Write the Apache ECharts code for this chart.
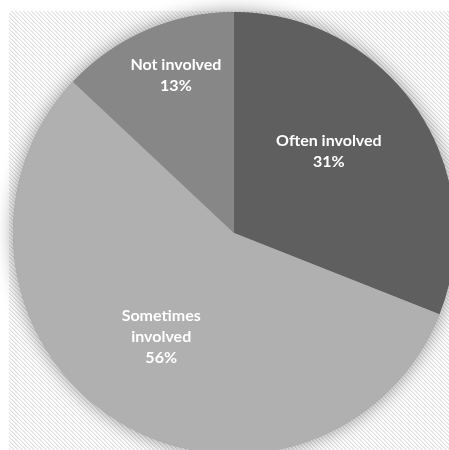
<!DOCTYPE html>
<html>
<head>
<meta charset="utf-8">
<script src="https://cdn.jsdelivr.net/npm/echarts@6/dist/echarts.min.js"></script>
<style>html,body{margin:0;padding:0;background:#fff;}#c{width:449px;height:450px;}</style>
</head>
<body>
<div id="c"></div>
<script>
var categories = ['Often involved', 'Sometimes involved', 'Not involved'];
var labelNames = ['Often involved', 'Sometimes\ninvolved', 'Not involved'];
var values = [31, 56, 13];
var colors = ['#5f5f5f', '#b0b0b0', '#878787'];
var labelOffsets = [[1, -18], [-12, 8], [-13, -53]];

var pc = document.createElement('canvas');
pc.width = 4; pc.height = 4;
var pctx = pc.getContext('2d');
pctx.fillStyle = '#ffffff'; pctx.fillRect(0, 0, 4, 4);
for (var y = 0; y < 4; y++) for (var x = 0; x < 4; x++) {
  var m = ((x - y) % 4 + 4) % 4;
  if (m === 0) { pctx.fillStyle = '#e0e0e0'; pctx.fillRect(x, y, 1, 1); }
  else if (m === 1) { pctx.fillStyle = '#efefef'; pctx.fillRect(x, y, 1, 1); }
}

var chart = echarts.init(document.getElementById('c'), null, {renderer: 'canvas'});
var data = categories.map(function (c, i) {
  return {
    name: c, value: values[i],
    itemStyle: {color: colors[i]},
    label: {offset: labelOffsets[i], formatter: labelNames[i] + '\n' + values[i] + '%'}
  };
});
chart.setOption({
  animation: false,
  backgroundColor: '#ffffff',
  graphic: [{
    type: 'rect', z: -10, silent: true,
    shape: {x: 9, y: 11, width: 440, height: 439},
    style: {fill: {image: pc, repeat: 'repeat'}}
  }],
  series: [{
    type: 'pie', silent: true, z: 1,
    center: [234, 233], radius: 221,
    label: {show: false}, labelLine: {show: false},
    itemStyle: {color: '#9a9a9a', shadowBlur: 18, shadowColor: 'rgba(0,0,0,0.4)'},
    data: [{value: 1, name: 'shadow'}]
  }, {
    type: 'pie', z: 2,
    center: [234, 233], radius: 221,
    startAngle: 90, clockwise: true,
    label: {
      show: true, position: 'inside',
      color: '#ffffff', fontWeight: 'bold', fontSize: 16,
      fontFamily: 'Lato', lineHeight: 21, align: 'center'
    },
    labelLine: {show: false},
    itemStyle: {borderWidth: 0},
    data: data
  }]
});
</script>
</body>
</html>
